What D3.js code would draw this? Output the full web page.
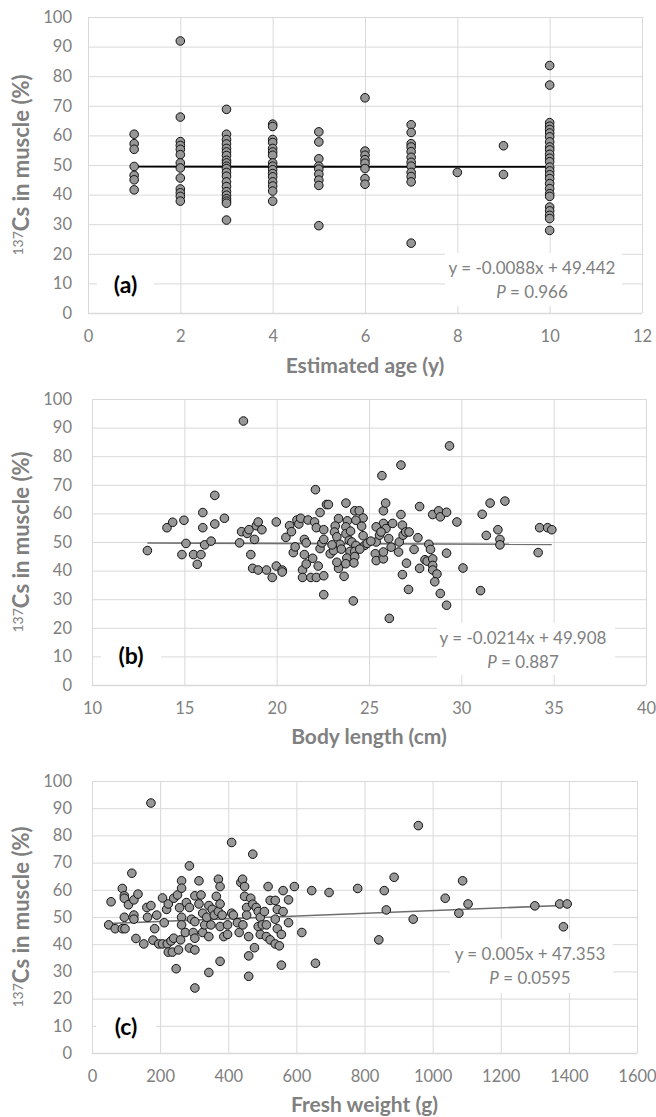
<!DOCTYPE html>
<html>
<head>
    <meta charset="utf-8">
    <script src="https://cdn.jsdelivr.net/npm/d3@7"></script>
</head>

<style>
    body { margin: 0; background: white; }
    text { font-family: Lato, "Open Sans", sans-serif; }
    .tick text { fill: #808080; font-size: 16.5px; }
    .tick line { stroke: #d9d9d9; }
    .domain { display: none; }
</style>

<body>
<div id="chart"></div>

<script>

    // ---- data ----

    // (a) estimated age, one column of 137Cs values per age
    var ageGroups = [1, 2, 3, 4, 5, 6, 7, 8, 9, 10];
    var ageCs = [
        [60.4, 57.2, 55.3, 49.5, 46.5, 45.0, 41.6],
        [91.9, 66.2, 57.9, 56.6, 55.3, 53.5, 50.7, 49.0, 45.6, 41.9, 40.6, 39.4, 37.8],
        [68.8, 60.4, 58.6, 57.1, 55.6, 54.4, 53.2, 51.6, 50.7, 49.6, 48.8, 47.5, 46.2, 44.3, 42.7, 41.0, 39.8, 38.6, 37.8, 37.1, 31.4],
        [63.8, 63.0, 58.6, 57.6, 55.6, 54.4, 53.3, 50.7, 49.6, 48.4, 47.1, 46.0, 44.3, 42.9, 41.2, 37.8],
        [61.2, 57.8, 52.1, 49.6, 48.6, 46.9, 44.9, 43.1, 29.5],
        [72.7, 54.7, 53.3, 51.8, 50.6, 48.8, 45.4, 43.5],
        [63.6, 61.0, 57.2, 56.1, 54.5, 52.6, 50.9, 49.6, 47.5, 46.1, 44.3, 23.6],
        [47.5],
        [56.5, 46.8],
        [83.6, 77.0, 64.3, 63.1, 62.0, 60.8, 59.5, 57.8, 56.1, 55.1, 53.6, 52.3, 51.1, 49.3, 48.0, 46.7, 45.4, 43.7, 42.0, 40.3, 39.4, 35.8, 34.5, 33.0, 31.9, 27.9]
    ];

    // (b) body length (cm) and 137Cs (%)
    var lengthCm = [
        13.0, 14.06, 14.37, 14.98, 15.09, 14.87, 15.5, 15.7, 15.9, 16.0, 16.0, 16.1, 16.45, 16.65, 16.65, 17.17,
        17.99, 18.1, 18.2, 18.4, 18.5, 18.6, 18.7, 18.8, 18.9, 19.0, 19.0, 19.2, 19.45, 19.76, 19.98, 19.98,
        20.3, 20.3, 20.5, 20.7, 20.8, 20.9, 21.0, 21.1, 21.2, 21.3, 21.4, 21.4, 21.5, 21.5, 21.6, 21.6,
        21.7, 21.85, 21.95, 22.05, 22.1, 22.15, 22.15, 22.25, 22.35, 22.35, 22.45, 22.55, 22.55, 22.55, 22.55, 22.7,
        22.8, 23.75, 24.23, 24.47, 24.68, 23.35, 23.83, 24.29, 23.17, 23.13, 23.26, 23.75, 23.75, 23.93, 24.07, 24.29,
        24.68, 24.77, 23.97, 24.23, 23.8, 24.23, 24.18, 23.74, 23.35, 23.65, 23.26, 22.9, 23.08, 23.43, 24.15,
        25.39, 25.34, 25.39, 25.78, 25.78, 25.57, 25.78, 25.92, 25.78, 25.9, 25.7, 26.07, 26.28, 26.2, 26.6, 26.64,
        26.73, 26.81, 26.85, 26.99, 27.17, 27.03, 26.81, 27.14, 26.1, 27.44, 27.65, 27.74, 28.24, 28.33, 28.03, 28.15,
        28.45, 28.45, 28.45, 28.68, 28.56, 28.86, 29.2, 27.74, 28.45, 28.77, 28.86, 29.2, 29.2, 25.39, 25.65,
        23.5, 24.5, 24.9, 23.0, 24.0, 24.6, 25.1,
        29.36, 26.73, 29.76, 30.09, 31.13, 31.35, 31.56, 32.36, 31.04, 31.98, 32.09, 32.09, 34.16, 34.24, 34.67, 34.9
    ];
    var lengthCs = [
        47.0, 55.0, 56.9, 57.6, 49.5, 45.6, 45.6, 42.2, 45.6, 60.3, 55.0, 49.0, 50.3, 66.3, 56.3, 58.3,
        49.7, 53.6, 92.3, 53.0, 54.3, 45.6, 40.8, 50.9, 55.7, 57.0, 40.2, 54.3, 40.2, 37.6, 57.0, 41.6,
        40.2, 39.5, 51.6, 55.7, 53.6, 46.3, 48.3, 57.7, 56.3, 58.3, 40.2, 37.6, 50.9, 45.6, 49.7, 42.3,
        57.7, 37.6, 44.3, 57.0, 68.3, 55.0, 37.6, 41.6, 60.3, 47.7, 49.7, 54.3, 38.2, 31.6, 50.9, 63.1,
        63.1, 63.6, 60.9, 60.9, 58.4, 58.2, 57.4, 57.6, 55.6, 53.5, 51.8, 55.3, 52.9, 50.6, 50.0, 48.8,
        52.2, 48.8, 46.7, 46.7, 44.4, 44.9, 42.7, 42.4, 40.8, 38.0, 42.9, 45.9, 47.0, 49.2, 29.4,
        50.0, 45.9, 43.5, 44.1, 46.5, 52.4, 56.5, 54.7, 60.9, 63.6, 73.2, 51.2, 56.5, 48.2, 46.5, 50.0,
        59.6, 55.9, 52.4, 53.5, 53.5, 42.6, 38.6, 33.4, 23.3, 47.4, 51.5, 62.4, 49.2, 47.4, 43.8, 43.3,
        44.1, 41.8, 40.2, 38.8, 36.1, 32.0, 27.9, 40.8, 59.6, 60.9, 58.8, 46.1, 60.4, 55.3, 53.5,
        47.5, 47.5, 49.5, 49.0, 53.8, 55.5, 50.3,
        83.6, 76.9, 57.0, 40.9, 59.7, 52.3, 63.6, 64.3, 33.0, 54.3, 50.9, 49.0, 46.3, 55.0, 55.0, 54.3
    ];

    // (c) fresh weight (g) and 137Cs (%)
    var weightG = [
        49, 56, 68, 89, 89, 95, 95, 95, 97, 107, 117, 123, 123, 123, 129, 135,
        152, 161, 163, 173, 173, 179, 184, 190, 196, 207, 207, 212, 219, 221, 224, 224,
        232, 236, 240, 240, 247, 251, 254, 257, 260, 263, 263, 263, 263, 274, 277, 286,
        286, 286, 292, 297, 302, 302, 302, 302, 302, 314, 314, 320, 325, 325, 331, 337,
        343, 343, 343, 349, 353, 359, 365, 371, 371, 376, 376, 376, 376, 382, 387, 398,
        398, 410, 410, 415, 427, 432, 437, 442, 443, 448, 448, 454, 454, 460, 460, 460,
        466, 472, 472, 477, 482, 488, 488, 494, 494, 500, 506, 512, 512, 517, 523, 523,
        538, 538, 538, 544, 544, 550, 556, 556, 561, 561, 577, 577, 594, 616, 645, 656,
        696, 780, 858, 887, 864, 842, 943, 958, 1037, 1077, 1088, 1104, 1300, 1373, 1395, 1384
    ];
    var weightCs = [
        47.1, 55.6, 45.7, 60.5, 45.7, 57.8, 56.9, 49.9, 45.7, 54.5, 66.1, 56.3, 50.7, 49.2, 42.1, 58.4,
        40.1, 53.5, 49.9, 91.9, 54.2, 41.5, 45.7, 50.7, 40.1, 57.0, 40.1, 47.9, 52.8, 40.1, 54.8, 37.1,
        41.2, 37.1, 56.9, 42.2, 31.0, 58.1, 37.9, 53.4, 41.6, 63.3, 60.6, 49.9, 47.1, 44.3, 55.3, 68.8,
        53.5, 38.6, 49.2, 44.3, 57.8, 48.3, 42.2, 37.9, 23.9, 63.3, 54.8, 58.1, 51.4, 44.3, 47.1, 49.9,
        54.2, 42.8, 29.6, 47.1, 52.8, 50.7, 57.6, 63.9, 52.0, 61.2, 54.8, 46.5, 33.7, 50.7, 42.8, 47.1,
        43.6, 51.4, 77.4, 50.7, 47.9, 44.3, 62.7, 63.9, 47.1, 61.2, 57.6, 53.5, 50.7, 42.8, 35.7, 28.2,
        56.9, 73.1, 54.7, 38.7, 53.5, 52.0, 46.5, 49.9, 43.6, 47.1, 52.0, 47.1, 42.8, 61.2, 56.1, 41.6,
        56.1, 49.2, 40.1, 52.8, 45.7, 39.4, 43.6, 32.3, 59.7, 52.0, 56.3, 47.9, 61.2, 44.3, 59.7, 33.0,
        59.0, 60.5, 59.7, 64.6, 52.6, 41.6, 49.2, 83.6, 56.9, 51.4, 63.3, 54.8, 54.1, 54.8, 54.8, 46.4
    ];

    // axis ticks
    var yTicks = [0, 10, 20, 30, 40, 50, 60, 70, 80, 90, 100];
    var ageTicks = [0, 2, 4, 6, 8, 10, 12];
    var lengthTicks = [10, 15, 20, 25, 30, 35, 40];
    var weightTicks = [0, 200, 400, 600, 800, 1000, 1200, 1400, 1600];

    // linear fits: [slope, intercept] and p-values as printed
    var ageFit = [-0.0088, 49.442];
    var lengthFit = [-0.0214, 49.908];
    var weightFit = [0.005, 47.353];
    var fitText = ['y = -0.0088x + 49.442', 'y = -0.0214x + 49.908', 'y = 0.005x + 47.353'];
    var pText = ['0.966', '0.887', '0.0595'];
    var panelLabels = ['(a)', '(b)', '(c)'];
    var xTitles = ['Estimated age (y)', 'Body length (cm)', 'Fresh weight (g)'];

    // flatten the age columns into points
    var agePoints = [];
    ageGroups.forEach(function(age, i) {
        ageCs[i].forEach(function(v) { agePoints.push([age, v]); });
    });
    var lengthPoints = lengthCm.map(function(d, i) { return [d, lengthCs[i]]; });
    var weightPoints = weightG.map(function(d, i) { return [d, weightCs[i]]; });

    // ---- layout ----
    var width = 656, height = 1117;

    var panels = [
        { left: 88, right: 642, top: 17, bottom: 313, xTicks: ageTicks, points: agePoints, fit: ageFit,
          trendColor: '#000000', trendWidth: 1.8, titleY: 366,
          label: { x: 97, y: 271, w: 57, h: 27 }, eq: { x: 445, y: 253, w: 177, h: 53, cx: 532 } },
        { left: 92, right: 646, top: 399, bottom: 685, xTicks: lengthTicks, points: lengthPoints, fit: lengthFit,
          trendColor: '#6f6f6f', trendWidth: 1.6, titleY: 737,
          label: { x: 101, y: 642, w: 60, h: 27 }, eq: { x: 437, y: 623, w: 178, h: 52, cx: 523 } },
        { left: 92, right: 637, top: 781, bottom: 1053, xTicks: weightTicks, points: weightPoints, fit: weightFit,
          trendColor: '#6f6f6f', trendWidth: 1.6, titleY: 1105,
          label: { x: 96, y: 1013, w: 60, h: 27 }, eq: { x: 450, y: 939, w: 163, h: 54, cx: 530 } }
    ];

    var svg = d3.select('#chart').append('svg')
        .attr('width', width)
        .attr('height', height);

    svg.append('rect')
        .attr('width', width)
        .attr('height', height)
        .attr('fill', 'white');

    panels.forEach(function(p, i) {
        var w = p.right - p.left;
        var h = p.bottom - p.top;

        var xScale = d3.scaleLinear()
            .domain([p.xTicks[0], p.xTicks[p.xTicks.length - 1]])
            .range([0, w]);

        var yScale = d3.scaleLinear()
            .domain([0, 100])
            .range([h, 0]);

        var g = svg.append('g')
            .attr('transform', 'translate(' + p.left + ', ' + p.top + ')');

        // y gridlines + labels
        g.append('g')
            .attr('class', 'axis')
            .call(d3.axisLeft(yScale).tickValues(yTicks).tickSize(-w).tickPadding(p.left - 72))
            .selectAll('.tick line')
            .attr('stroke', function(d) { return d === 0 ? '#bfbfbf' : '#d9d9d9'; })
            .attr('stroke-width', function(d) { return d === 0 ? 1.5 : 1; });

        // x gridlines + labels
        g.append('g')
            .attr('class', 'axis')
            .attr('transform', 'translate(0,' + h + ')')
            .call(d3.axisBottom(xScale).tickValues(p.xTicks).tickSize(-h).tickPadding(17)
                .tickFormat(d3.format('d')))
            .selectAll('.tick line')
            .attr('stroke', function(d, j) { return j === 0 ? '#bfbfbf' : '#d9d9d9'; });

        // panel label box
        g.append('rect')
            .attr('x', p.label.x - p.left)
            .attr('y', p.label.y - p.top)
            .attr('width', p.label.w)
            .attr('height', p.label.h)
            .attr('fill', 'white');
        g.append('text')
            .attr('x', p.label.x - p.left + p.label.w / 2)
            .attr('y', p.label.y - p.top + p.label.h / 2)
            .attr('dy', '0.36em')
            .attr('text-anchor', 'middle')
            .attr('font-size', '23px')
            .attr('font-weight', 'bold')
            .attr('fill', '#000')
            .text(panelLabels[i]);

        // equation box
        g.append('rect')
            .attr('x', p.eq.x - p.left)
            .attr('y', p.eq.y - p.top)
            .attr('width', p.eq.w)
            .attr('height', p.eq.h)
            .attr('fill', 'white');
        var eqText = g.append('text')
            .attr('text-anchor', 'middle')
            .attr('font-size', '17px')
            .attr('fill', '#808080');
        eqText.append('tspan')
            .attr('x', p.eq.cx - p.left)
            .attr('y', p.eq.y - p.top + 21)
            .text(fitText[i]);
        var pLine = eqText.append('tspan')
            .attr('x', p.eq.cx - p.left)
            .attr('y', p.eq.y - p.top + 45);
        pLine.append('tspan').attr('font-style', 'italic').text('P');
        pLine.append('tspan').text(' = ' + pText[i]);

        // trend line over the range of x
        var xExtent = d3.extent(p.points, function(d) { return d[0]; });
        var line = d3.line()
            .x(function(d) { return xScale(d); })
            .y(function(d) { return yScale(p.fit[0] * d + p.fit[1]); });
        g.append('path')
            .datum(xExtent)
            .attr('d', line)
            .attr('fill', 'none')
            .attr('stroke', p.trendColor)
            .attr('stroke-width', p.trendWidth);

        // points
        g.selectAll('circle.point')
            .data(p.points)
            .enter()
            .append('circle')
            .attr('class', 'point')
            .attr('r', 4.3)
            .attr('cx', function(d) { return xScale(d[0]); })
            .attr('cy', function(d) { return yScale(d[1]); })
            .attr('fill', '#979797')
            .attr('stroke', '#111')
            .attr('stroke-width', 1);

        // axis titles
        svg.append('text')
            .attr('x', p.left + w / 2)
            .attr('y', p.titleY)
            .attr('dy', '0.35em')
            .attr('text-anchor', 'middle')
            .attr('font-size', '21px')
            .attr('font-weight', 'bold')
            .attr('fill', '#808080')
            .text(xTitles[i]);

        var yTitle = svg.append('text')
            .attr('transform', 'translate(29,' + (p.top + h / 2) + ') rotate(-90)')
            .attr('text-anchor', 'middle')
            .attr('dy', '0.35em')
            .attr('font-size', '22px')
            .attr('font-weight', 'bold')
            .attr('fill', '#808080');
        yTitle.append('tspan')
            .attr('font-size', '14px')
            .attr('font-weight', 'normal')
            .attr('dy', '-0.4em')
            .text('137');
        yTitle.append('tspan')
            .attr('dy', '0.26em')
            .text('Cs in muscle (%)');
    });

</script>
</body>
</html>
